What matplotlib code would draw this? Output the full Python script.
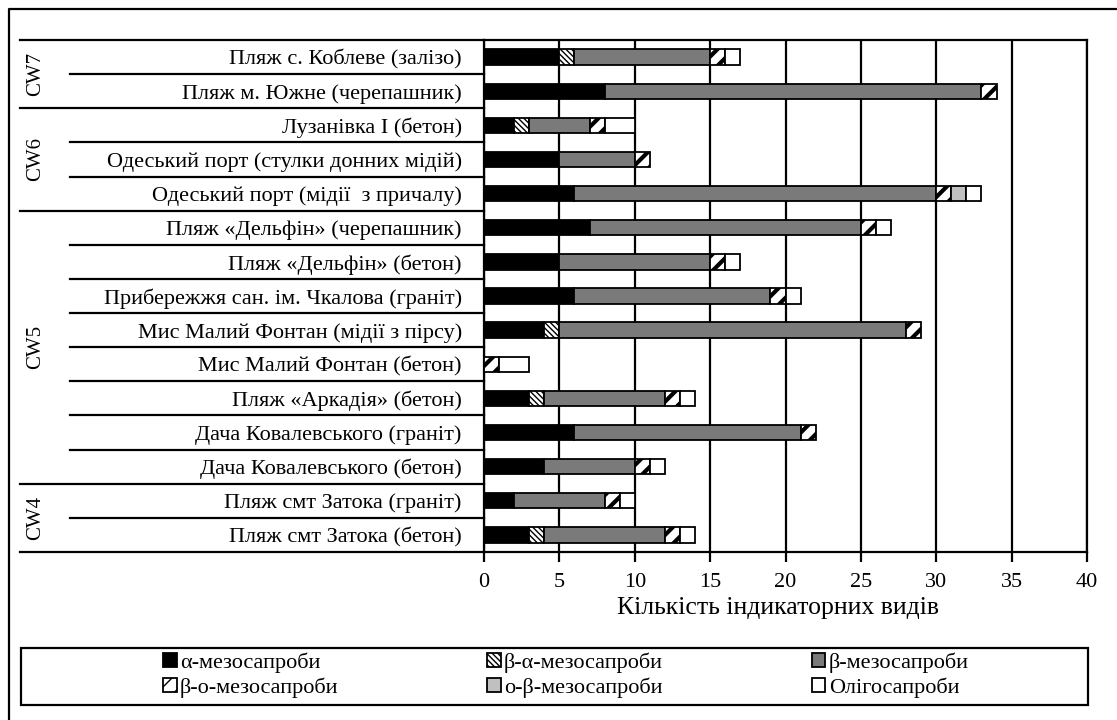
import matplotlib
matplotlib.use("Agg")
import matplotlib.pyplot as plt
import matplotlib.transforms as mtransforms
from matplotlib.lines import Line2D
from matplotlib.patches import Rectangle
import numpy as np

plt.rcParams['font.family'] = ['Liberation Serif', 'DejaVu Serif']

# rows from top to bottom
sites = [
    "Пляж с. Коблеве (залізо)",
    "Пляж м. Южне (черепашник)",
    "Лузанівка I (бетон)",
    "Одеський порт (стулки донних мідій)",
    "Одеський порт (мідії  з причалу)",
    "Пляж «Дельфін» (черепашник)",
    "Пляж «Дельфін» (бетон)",
    "Прибережжя сан. ім. Чкалова (граніт)",
    "Мис Малий Фонтан (мідії з пірсу)",
    "Мис Малий Фонтан (бетон)",
    "Пляж «Аркадія» (бетон)",
    "Дача Ковалевського (граніт)",
    "Дача Ковалевського (бетон)",
    "Пляж смт Затока (граніт)",
    "Пляж смт Затока (бетон)",
]
alpha_meso = [5, 8, 2, 5, 6, 7, 5, 6, 4, 0, 3, 6, 4, 2, 3]
beta_alpha_meso = [1, 0, 1, 0, 0, 0, 0, 0, 1, 0, 1, 0, 0, 0, 1]
beta_meso = [9, 25, 4, 5, 24, 18, 10, 13, 23, 0, 8, 15, 6, 6, 8]
beta_o_meso = [1, 1, 1, 1, 1, 1, 1, 1, 1, 1, 1, 1, 1, 1, 1]
o_beta_meso = [0, 0, 0, 0, 1, 0, 0, 0, 0, 0, 0, 0, 0, 0, 0]
oligo = [1, 0, 2, 0, 1, 1, 1, 1, 0, 2, 1, 0, 1, 1, 1]

series_names = ["α-мезосапроби", "β-α-мезосапроби", "β-мезосапроби",
                "β-о-мезосапроби", "о-β-мезосапроби", "Олігосапроби"]
groups = ["CW7", "CW6", "CW5", "CW4"]
group_rows = [(0, 1), (2, 4), (5, 12), (13, 14)]

W, H = 1117, 720
fig = plt.figure(figsize=(W / 100, H / 100), dpi=100)
ax = fig.add_axes([484 / W, 1 - 552 / H, (1087 - 484) / W, (552 - 40) / H])

styles = [
    dict(color="black", hatch=None, hlw=1.0),
    dict(color="white", hatch="\\\\\\\\\\\\", hlw=1.0),
    dict(color="#7a7a7a", hatch=None, hlw=1.0),
    dict(color="white", hatch="//", hlw=3.0),
    dict(color="#c0c0c0", hatch=None, hlw=1.0),
    dict(color="white", hatch=None, hlw=1.0),
]
data = [alpha_meso, beta_alpha_meso, beta_meso, beta_o_meso, o_beta_meso, oligo]

y = np.arange(len(sites))
left = np.zeros(len(sites))
handles = []
for vals, st, name in zip(data, styles, series_names):
    vals = np.array(vals, dtype=float)
    m = vals > 0
    with plt.rc_context({'hatch.linewidth': st["hlw"], 'hatch.color': 'black'}):
        bars = ax.barh(y[m], vals[m], left=left[m], height=0.45,
                       color=st["color"], edgecolor="black", linewidth=1.3,
                       hatch=st["hatch"], label=name, zorder=3)
    handles.append(bars)
    left += vals

ax.set_xlim(0, 40)
ax.set_ylim(len(sites) - 0.5, -0.5)
ax.set_xticks(np.arange(0, 41, 5))
ax.grid(axis="x", color="black", linewidth=1.6, zorder=0)
ax.set_axisbelow(True)
ax.set_yticks(y)
ax.set_yticklabels(sites, fontsize=16)
ax.tick_params(axis="y", length=0, pad=16)
ax.tick_params(axis="x", direction="out", length=7, width=1.6, labelsize=16, pad=8)
for s in ["left", "right", "top", "bottom"]:
    ax.spines[s].set_linewidth(1.6)

# label table lines on the left
tr = mtransforms.blended_transform_factory(fig.transFigure, ax.transData)
group_edges = [-0.5] + [b + 0.5 for a, b in group_rows]
for k in range(len(sites) + 1):
    yy = k - 0.5
    x0 = 20 / W if yy in group_edges else 70 / W
    fig.add_artist(Line2D([x0, 484 / W], [yy, yy], transform=tr,
                          color="black", linewidth=1.6))
for g, (a, b) in zip(groups, group_rows):
    fig.text(36 / W, (a + b) / 2, g, transform=tr, rotation=90,
             ha="center", va="center", fontsize=15)

fig.text(778 / W, 1 - 608 / H, "Кількість індикаторних видів",
         ha="center", va="center", fontsize=18.5)

# outer frame (left and top only visible)
fig.add_artist(Line2D([9 / W, 9 / W, 1.0], [0.0, 1 - 9 / H, 1 - 9 / H],
                      transform=fig.transFigure, color="black", linewidth=1.6))

# legend box
fig.add_artist(Rectangle((21 / W, 1 - 705 / H), (1088 - 21) / W, (705 - 648) / H,
                         transform=fig.transFigure, fill=False,
                         edgecolor="black", linewidth=1.6))
order = [0, 3, 1, 4, 2, 5]
leg = fig.legend([handles[i] for i in order], [series_names[i] for i in order],
                 ncol=3, loc="center", bbox_to_anchor=(566 / W, 1 - 675 / H),
                 frameon=False, fontsize=16, handlelength=0.6, handleheight=0.6,
                 handletextpad=0.15, columnspacing=6.7, labelspacing=0.2,
                 borderpad=0)

fig.savefig("out.png", dpi=100)
